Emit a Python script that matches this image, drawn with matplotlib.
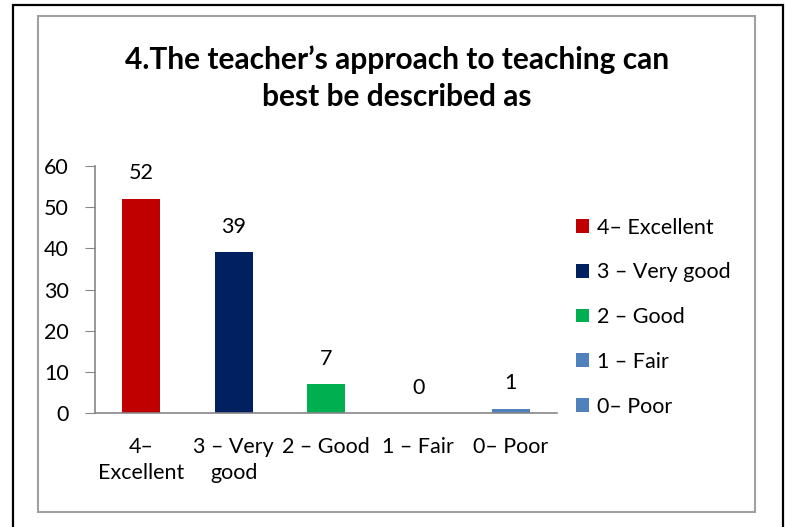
import matplotlib.pyplot as plt
from matplotlib.patches import Rectangle

# chart data
tick_labels = ["4–\nExcellent", "3 – Very\ngood", "2 – Good", "1 – Fair", "0– Poor"]
legend_labels = ["4– Excellent", "3 – Very good", "2 – Good", "1 – Fair", "0– Poor"]
counts = [52, 39, 7, 0, 1]
colors = ["#C00000", "#002060", "#00B050", "#4F81BD", "#4F81BD"]

plt.rcParams['font.family'] = ['Lato', 'DejaVu Sans']

fig = plt.figure(figsize=(7.86, 5.27), dpi=100)
W, H = 786, 527

# outer black frame and inner grey chart-area frame
fig.patches.append(Rectangle((13 / W, -0.05), 770 / W, 1 - 5 / H + 0.05,
                             transform=fig.transFigure, fill=False,
                             edgecolor="black", linewidth=1.6))
fig.patches.append(Rectangle((38 / W, 1 - 512 / H), 717 / W, 496 / H,
                             transform=fig.transFigure, fill=False,
                             edgecolor="#A0A0A0", linewidth=1.5))

ax = fig.add_axes([95 / W, 1 - 413 / H, 462 / W, 247 / H])
x = list(range(len(counts)))
for i in x:
    ax.bar(i, counts[i], width=0.41, color=colors[i], label=legend_labels[i])
    ax.annotate(str(counts[i]), (i, counts[i]), xytext=(0, 14), textcoords="offset points",
                ha="center", va="baseline", fontsize=15.5)

ax.set_xlim(-0.5, len(counts) - 0.5)
ax.set_ylim(0, 60)
ax.set_yticks(range(0, 61, 10))
ax.set_xticks(x)
ax.set_xticklabels(tick_labels, fontsize=15.5, linespacing=1.4)
ax.tick_params(axis="x", length=0, pad=17)
ax.tick_params(axis="y", length=7, color="#868686", labelsize=15.5, pad=12)
for s in ["top", "right"]:
    ax.spines[s].set_visible(False)
for s in ["left", "bottom"]:
    ax.spines[s].set_color("#868686")
    ax.spines[s].set_linewidth(1.2)

fig.text(397 / W, 1 - 78 / H, "4.The teacher’s approach to teaching can\nbest be described as",
         ha="center", va="center", fontsize=21.5, fontweight="bold", linespacing=1.42)

leg = ax.legend(loc="upper left", bbox_to_anchor=(567 / W, 1 - 209 / H),
                bbox_transform=fig.transFigure, frameon=False, fontsize=15.5,
                handlelength=0.6, handleheight=0.6, handletextpad=0.4,
                labelspacing=1.15, borderaxespad=0)

fig.savefig("out.png", dpi=100)
